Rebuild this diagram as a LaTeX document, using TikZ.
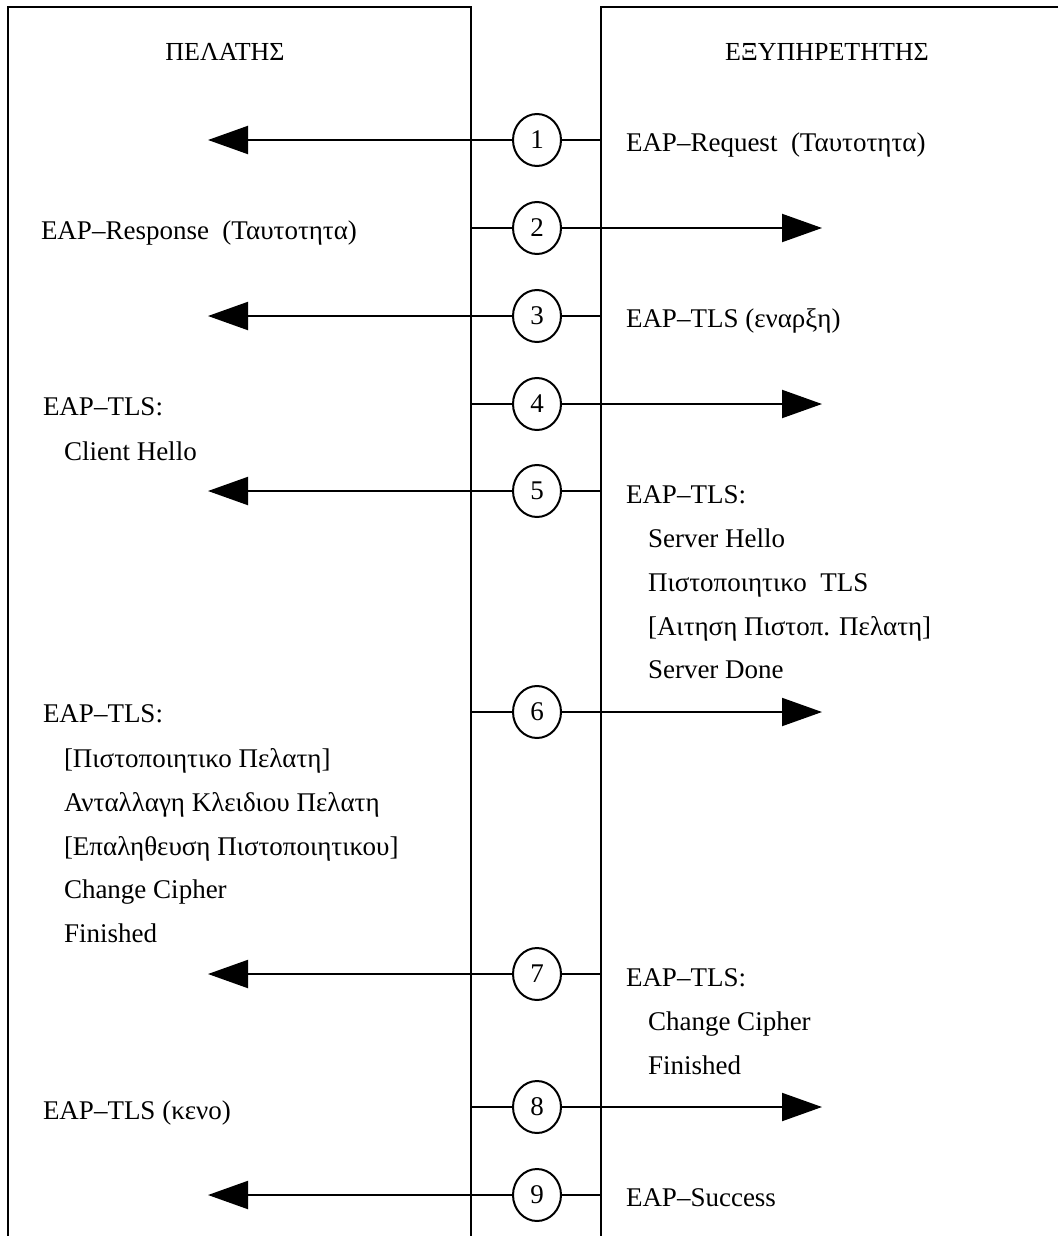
\documentclass[tikz,border=0pt]{standalone}
\usepackage{fontspec}
\setmainfont{Liberation Serif}
\usetikzlibrary{arrows.meta,shapes.geometric}

\begin{document}
\begin{tikzpicture}[x=1pt,y=-1pt,line width=2pt,
  txt/.style={font=\fontsize{27}{30}\selectfont,inner sep=0pt,anchor=base west},
  head/.style={font=\fontsize{26}{30}\selectfont,inner sep=0pt,anchor=base},
  num/.style={draw,ellipse,fill=white,minimum width=48pt,minimum height=52pt,
              inner sep=0pt,font=\fontsize{27}{30}\selectfont},
  flow/.style={-{Triangle[length=40pt,width=28pt]}}]

\useasboundingbox (0,0) rectangle (1058,1236);

% lifeline edges and arrow-tip columns
\coordinate (cEdge) at (471,0);
\coordinate (sEdge) at (601,0);
\coordinate (cTip)  at (208,0);
\coordinate (sTip)  at (822,0);

% the two parties
\draw (8,1236) -- (8,7) -- (471,7) -- (471,1236);
\draw (1058,7) -- (601,7) -- (601,1236);
\node[head] (client) at (225,61) {ΠΕΛΑΤΗΣ};
\node[head] (server) at (827,61) {ΕΞΥΠΗΡΕΤΗΤΗΣ};

% numbered steps
\foreach \i/\y in {1/140,2/228,3/316,4/404,5/491,6/712,7/974,8/1107,9/1195}
  \node[num] (c\i) at (537,\y) {\i};

% server -> client
\foreach \i in {1,3,5,7,9}{
  \draw (c\i.east) -- (c\i -| sEdge);
  \draw[flow] (c\i.west) -- (c\i -| cTip);
}
% client -> server
\foreach \i in {2,4,6,8}{
  \draw (c\i.west) -- (c\i -| cEdge);
  \draw[flow] (c\i.east) -- (c\i -| sTip);
}

% client messages
\node[txt] (m2)  at (40,239)  {EAP–Response \ (Ταυτοτητα)};
\node[txt] (m4a) at (42,415)  {EAP–TLS:};
\node[txt] (m4b) at (63,460)  {Client Hello};
\node[txt] (m6a) at (42,722)  {EAP–TLS:};
\node[txt] (m6b) at (63,767)  {[Πιστοποιητικο Πελατη]};
\node[txt] (m6c) at (63,811)  {Ανταλλαγη Κλειδιου Πελατη};
\node[txt] (m6d) at (63,855)  {[Επαληθευση Πιστοποιητικου]};
\node[txt] (m6e) at (63,898)  {Change Cipher};
\node[txt] (m6f) at (63,942)  {Finished};
\node[txt] (m8)  at (42,1119) {EAP–TLS (κενο)};

% server messages
\node[txt] (m1)  at (625,151)  {EAP–Request \ (Ταυτοτητα)};
\node[txt] (m3)  at (625,327)  {EAP–TLS (εναρξη)};
\node[txt] (m5a) at (625,503)  {EAP–TLS:};
\node[txt] (m5b) at (647,547)  {Server Hello};
\node[txt] (m5c) at (647,591)  {Πιστοποιητικο \ TLS};
\node[txt] (m5d) at (647,635)  {[Αιτηση Πιστοπ. Πελατη]};
\node[txt] (m5e) at (647,678)  {Server Done};
\node[txt] (m7a) at (625,986)  {EAP–TLS:};
\node[txt] (m7b) at (647,1030) {Change Cipher};
\node[txt] (m7c) at (647,1074) {Finished};
\node[txt] (m9)  at (625,1206) {EAP–Success};
\end{tikzpicture}
\end{document}
